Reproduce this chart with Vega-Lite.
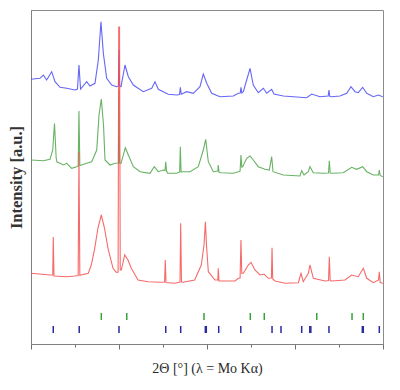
{
  "$schema": "https://vega.github.io/schema/vega-lite/v6.json",
  "width": 352,
  "height": 334,
  "autosize": {"type": "none"},
  "padding": {"left": 31, "top": 10, "right": 17, "bottom": 46},
  "background": "white",
  "config": {"view": {"stroke": "#8c8c8c", "strokeWidth": 1}, "font": "Liberation Serif"},
  "datasets": {
    "xrd": [
      {"series": "upper", "two_theta": 4.00, "intensity": 264.7},
      {"series": "upper", "two_theta": 5.02, "intensity": 265.7},
      {"series": "upper", "two_theta": 5.40, "intensity": 269},
      {"series": "upper", "two_theta": 5.78, "intensity": 264},
      {"series": "upper", "two_theta": 6.35, "intensity": 272.3},
      {"series": "upper", "two_theta": 6.73, "intensity": 262.3},
      {"series": "upper", "two_theta": 7.30, "intensity": 256.7},
      {"series": "upper", "two_theta": 8.06, "intensity": 255.7},
      {"series": "upper", "two_theta": 9.00, "intensity": 254},
      {"series": "upper", "two_theta": 9.28, "intensity": 255},
      {"series": "upper", "two_theta": 9.45, "intensity": 279},
      {"series": "upper", "two_theta": 9.63, "intensity": 255},
      {"series": "upper", "two_theta": 10.33, "intensity": 262.3},
      {"series": "upper", "two_theta": 10.70, "intensity": 258},
      {"series": "upper", "two_theta": 11.27, "intensity": 260.7},
      {"series": "upper", "two_theta": 11.65, "intensity": 284},
      {"series": "upper", "two_theta": 11.95, "intensity": 322.3},
      {"series": "upper", "two_theta": 12.22, "intensity": 290.7},
      {"series": "upper", "two_theta": 12.60, "intensity": 265.7},
      {"series": "upper", "two_theta": 13.17, "intensity": 259},
      {"series": "upper", "two_theta": 13.74, "intensity": 257.3},
      {"series": "upper", "two_theta": 13.93, "intensity": 258},
      {"series": "upper", "two_theta": 14.00, "intensity": 294},
      {"series": "upper", "two_theta": 14.07, "intensity": 258},
      {"series": "upper", "two_theta": 14.23, "intensity": 257.3},
      {"series": "upper", "two_theta": 14.68, "intensity": 279},
      {"series": "upper", "two_theta": 15.06, "intensity": 267.3},
      {"series": "upper", "two_theta": 15.63, "intensity": 259},
      {"series": "upper", "two_theta": 16.76, "intensity": 252.3},
      {"series": "upper", "two_theta": 17.72, "intensity": 255.7},
      {"series": "upper", "two_theta": 18.09, "intensity": 262.3},
      {"series": "upper", "two_theta": 18.47, "intensity": 254.7},
      {"series": "upper", "two_theta": 19.03, "intensity": 252.3},
      {"series": "upper", "two_theta": 19.60, "intensity": 249.7},
      {"series": "upper", "two_theta": 20.56, "intensity": 249},
      {"series": "upper", "two_theta": 20.88, "intensity": 249.5},
      {"series": "upper", "two_theta": 20.97, "intensity": 256.7},
      {"series": "upper", "two_theta": 21.07, "intensity": 249.7},
      {"series": "upper", "two_theta": 21.69, "intensity": 252.3},
      {"series": "upper", "two_theta": 22.44, "intensity": 250.7},
      {"series": "upper", "two_theta": 23.20, "intensity": 257.3},
      {"series": "upper", "two_theta": 23.58, "intensity": 270},
      {"series": "upper", "two_theta": 23.97, "intensity": 260.7},
      {"series": "upper", "two_theta": 24.53, "intensity": 250.7},
      {"series": "upper", "two_theta": 25.48, "intensity": 247.3},
      {"series": "upper", "two_theta": 26.99, "intensity": 248},
      {"series": "upper", "two_theta": 27.56, "intensity": 250.7},
      {"series": "upper", "two_theta": 27.78, "intensity": 251},
      {"series": "upper", "two_theta": 27.86, "intensity": 256.7},
      {"series": "upper", "two_theta": 27.95, "intensity": 251},
      {"series": "upper", "two_theta": 28.13, "intensity": 252.3},
      {"series": "upper", "two_theta": 28.51, "intensity": 264},
      {"series": "upper", "two_theta": 28.89, "intensity": 275.7},
      {"series": "upper", "two_theta": 29.26, "intensity": 259},
      {"series": "upper", "two_theta": 29.83, "intensity": 251.3},
      {"series": "upper", "two_theta": 30.40, "intensity": 255.7},
      {"series": "upper", "two_theta": 30.78, "intensity": 250.7},
      {"series": "upper", "two_theta": 31.35, "intensity": 254.7},
      {"series": "upper", "two_theta": 31.61, "intensity": 250},
      {"series": "upper", "two_theta": 32.67, "intensity": 248},
      {"series": "upper", "two_theta": 33.81, "intensity": 247.3},
      {"series": "upper", "two_theta": 35.33, "intensity": 246.3},
      {"series": "upper", "two_theta": 35.90, "intensity": 250},
      {"series": "upper", "two_theta": 36.84, "intensity": 247.3},
      {"series": "upper", "two_theta": 37.77, "intensity": 248},
      {"series": "upper", "two_theta": 37.86, "intensity": 254},
      {"series": "upper", "two_theta": 37.95, "intensity": 247.5},
      {"series": "upper", "two_theta": 38.17, "intensity": 247.3},
      {"series": "upper", "two_theta": 39.11, "intensity": 248},
      {"series": "upper", "two_theta": 39.88, "intensity": 250.7},
      {"series": "upper", "two_theta": 40.36, "intensity": 257.3},
      {"series": "upper", "two_theta": 40.82, "intensity": 252.3},
      {"series": "upper", "two_theta": 41.19, "intensity": 251.3},
      {"series": "upper", "two_theta": 41.69, "intensity": 256.7},
      {"series": "upper", "two_theta": 42.15, "intensity": 250.7},
      {"series": "upper", "two_theta": 42.90, "intensity": 247.3},
      {"series": "upper", "two_theta": 43.47, "intensity": 249},
      {"series": "upper", "two_theta": 43.97, "intensity": 247.3},

      {"series": "middle", "two_theta": 4.00, "intensity": 184},
      {"series": "middle", "two_theta": 5.40, "intensity": 183.3},
      {"series": "middle", "two_theta": 6.16, "intensity": 184.7},
      {"series": "middle", "two_theta": 6.47, "intensity": 194},
      {"series": "middle", "two_theta": 6.67, "intensity": 220.5},
      {"series": "middle", "two_theta": 6.86, "intensity": 186},
      {"series": "middle", "two_theta": 6.95, "intensity": 182},
      {"series": "middle", "two_theta": 7.30, "intensity": 180.7},
      {"series": "middle", "two_theta": 7.67, "intensity": 179},
      {"series": "middle", "two_theta": 8.06, "intensity": 180.7},
      {"series": "middle", "two_theta": 8.63, "intensity": 175.7},
      {"series": "middle", "two_theta": 9.19, "intensity": 177.3},
      {"series": "middle", "two_theta": 9.36, "intensity": 178},
      {"series": "middle", "two_theta": 9.45, "intensity": 233},
      {"series": "middle", "two_theta": 9.55, "intensity": 178.5},
      {"series": "middle", "two_theta": 9.76, "intensity": 179},
      {"series": "middle", "two_theta": 10.33, "intensity": 180.7},
      {"series": "middle", "two_theta": 10.90, "intensity": 182.3},
      {"series": "middle", "two_theta": 11.47, "intensity": 194},
      {"series": "middle", "two_theta": 11.73, "intensity": 229},
      {"series": "middle", "two_theta": 11.99, "intensity": 245},
      {"series": "middle", "two_theta": 12.24, "intensity": 219},
      {"series": "middle", "two_theta": 12.41, "intensity": 184},
      {"series": "middle", "two_theta": 12.98, "intensity": 179},
      {"series": "middle", "two_theta": 13.55, "intensity": 180.7},
      {"series": "middle", "two_theta": 13.93, "intensity": 181},
      {"series": "middle", "two_theta": 14.00, "intensity": 254},
      {"series": "middle", "two_theta": 14.07, "intensity": 181},
      {"series": "middle", "two_theta": 14.23, "intensity": 180.7},
      {"series": "middle", "two_theta": 14.72, "intensity": 196.3},
      {"series": "middle", "two_theta": 15.06, "intensity": 189},
      {"series": "middle", "two_theta": 15.63, "intensity": 177.3},
      {"series": "middle", "two_theta": 16.39, "intensity": 172.3},
      {"series": "middle", "two_theta": 17.52, "intensity": 170.7},
      {"series": "middle", "two_theta": 18.01, "intensity": 177.3},
      {"series": "middle", "two_theta": 18.47, "intensity": 172.3},
      {"series": "middle", "two_theta": 19.03, "intensity": 174},
      {"series": "middle", "two_theta": 19.23, "intensity": 173.5},
      {"series": "middle", "two_theta": 19.31, "intensity": 182.3},
      {"series": "middle", "two_theta": 19.40, "intensity": 173},
      {"series": "middle", "two_theta": 19.53, "intensity": 170.7},
      {"series": "middle", "two_theta": 20.56, "intensity": 170.7},
      {"series": "middle", "two_theta": 20.89, "intensity": 172},
      {"series": "middle", "two_theta": 20.97, "intensity": 197.3},
      {"series": "middle", "two_theta": 21.05, "intensity": 172},
      {"series": "middle", "two_theta": 21.24, "intensity": 172.3},
      {"series": "middle", "two_theta": 22.07, "intensity": 172.3},
      {"series": "middle", "two_theta": 23.01, "intensity": 177.3},
      {"series": "middle", "two_theta": 23.58, "intensity": 194},
      {"series": "middle", "two_theta": 23.85, "intensity": 204.7},
      {"series": "middle", "two_theta": 24.15, "intensity": 182.3},
      {"series": "middle", "two_theta": 24.72, "intensity": 172.3},
      {"series": "middle", "two_theta": 25.23, "intensity": 173},
      {"series": "middle", "two_theta": 25.28, "intensity": 179},
      {"series": "middle", "two_theta": 25.36, "intensity": 172},
      {"series": "middle", "two_theta": 25.56, "intensity": 171.3},
      {"series": "middle", "two_theta": 26.99, "intensity": 170.7},
      {"series": "middle", "two_theta": 27.56, "intensity": 172.3},
      {"series": "middle", "two_theta": 27.76, "intensity": 173},
      {"series": "middle", "two_theta": 27.86, "intensity": 189},
      {"series": "middle", "two_theta": 27.95, "intensity": 177},
      {"series": "middle", "two_theta": 28.05, "intensity": 177.3},
      {"series": "middle", "two_theta": 28.51, "intensity": 185.7},
      {"series": "middle", "two_theta": 28.89, "intensity": 188},
      {"series": "middle", "two_theta": 29.26, "intensity": 184},
      {"series": "middle", "two_theta": 29.83, "intensity": 177.3},
      {"series": "middle", "two_theta": 30.59, "intensity": 174.7},
      {"series": "middle", "two_theta": 31.08, "intensity": 174},
      {"series": "middle", "two_theta": 31.35, "intensity": 187.3},
      {"series": "middle", "two_theta": 31.50, "intensity": 172.3},
      {"series": "middle", "two_theta": 32.67, "intensity": 169},
      {"series": "middle", "two_theta": 34.57, "intensity": 168},
      {"series": "middle", "two_theta": 34.76, "intensity": 173.3},
      {"series": "middle", "two_theta": 35.02, "intensity": 169},
      {"series": "middle", "two_theta": 35.51, "intensity": 172.3},
      {"series": "middle", "two_theta": 35.70, "intensity": 177.3},
      {"series": "middle", "two_theta": 36.08, "intensity": 171.3},
      {"series": "middle", "two_theta": 37.22, "intensity": 170.7},
      {"series": "middle", "two_theta": 37.81, "intensity": 171},
      {"series": "middle", "two_theta": 37.90, "intensity": 183.3},
      {"series": "middle", "two_theta": 38.00, "intensity": 171},
      {"series": "middle", "two_theta": 38.17, "intensity": 170.7},
      {"series": "middle", "two_theta": 39.49, "intensity": 171.3},
      {"series": "middle", "two_theta": 40.44, "intensity": 176.7},
      {"series": "middle", "two_theta": 41.01, "intensity": 174.7},
      {"series": "middle", "two_theta": 41.69, "intensity": 177.3},
      {"series": "middle", "two_theta": 42.15, "intensity": 172.3},
      {"series": "middle", "two_theta": 42.90, "intensity": 169},
      {"series": "middle", "two_theta": 43.49, "intensity": 169},
      {"series": "middle", "two_theta": 43.58, "intensity": 174},
      {"series": "middle", "two_theta": 43.68, "intensity": 168.5},
      {"series": "middle", "two_theta": 43.97, "intensity": 167.3},

      {"series": "lower", "two_theta": 4.00, "intensity": 70.7},
      {"series": "lower", "two_theta": 6.16, "intensity": 69},
      {"series": "lower", "two_theta": 6.47, "intensity": 69},
      {"series": "lower", "two_theta": 6.53, "intensity": 107},
      {"series": "lower", "two_theta": 6.61, "intensity": 68},
      {"series": "lower", "two_theta": 8.06, "intensity": 67.3},
      {"series": "lower", "two_theta": 9.00, "intensity": 68},
      {"series": "lower", "two_theta": 9.36, "intensity": 68.5},
      {"series": "lower", "two_theta": 9.45, "intensity": 192},
      {"series": "lower", "two_theta": 9.55, "intensity": 68.5},
      {"series": "lower", "two_theta": 9.68, "intensity": 69},
      {"series": "lower", "two_theta": 10.51, "intensity": 70.7},
      {"series": "lower", "two_theta": 10.85, "intensity": 79},
      {"series": "lower", "two_theta": 11.24, "intensity": 95.7},
      {"series": "lower", "two_theta": 11.61, "intensity": 116},
      {"series": "lower", "two_theta": 11.99, "intensity": 129},
      {"series": "lower", "two_theta": 12.35, "intensity": 116},
      {"series": "lower", "two_theta": 12.75, "intensity": 95.7},
      {"series": "lower", "two_theta": 13.32, "intensity": 75.7},
      {"series": "lower", "two_theta": 13.69, "intensity": 71.7},
      {"series": "lower", "two_theta": 13.90, "intensity": 72},
      {"series": "lower", "two_theta": 13.97, "intensity": 317},
      {"series": "lower", "two_theta": 14.06, "intensity": 317},
      {"series": "lower", "two_theta": 14.14, "intensity": 74},
      {"series": "lower", "two_theta": 14.26, "intensity": 74},
      {"series": "lower", "two_theta": 14.65, "intensity": 89},
      {"series": "lower", "two_theta": 15.02, "intensity": 84},
      {"series": "lower", "two_theta": 15.40, "intensity": 75.7},
      {"series": "lower", "two_theta": 16.16, "intensity": 64},
      {"series": "lower", "two_theta": 17.30, "intensity": 62.3},
      {"series": "lower", "two_theta": 18.81, "intensity": 61.7},
      {"series": "lower", "two_theta": 19.18, "intensity": 62},
      {"series": "lower", "two_theta": 19.26, "intensity": 84},
      {"series": "lower", "two_theta": 19.34, "intensity": 61.5},
      {"series": "lower", "two_theta": 20.33, "intensity": 60.7},
      {"series": "lower", "two_theta": 20.93, "intensity": 62},
      {"series": "lower", "two_theta": 21.01, "intensity": 120.7},
      {"series": "lower", "two_theta": 21.10, "intensity": 62},
      {"series": "lower", "two_theta": 21.27, "intensity": 61.7},
      {"series": "lower", "two_theta": 22.60, "intensity": 64},
      {"series": "lower", "two_theta": 23.35, "intensity": 79},
      {"series": "lower", "two_theta": 23.66, "intensity": 99},
      {"series": "lower", "two_theta": 23.82, "intensity": 122.3},
      {"series": "lower", "two_theta": 23.94, "intensity": 99},
      {"series": "lower", "two_theta": 24.15, "intensity": 72.3},
      {"series": "lower", "two_theta": 24.91, "intensity": 64},
      {"series": "lower", "two_theta": 25.23, "intensity": 64},
      {"series": "lower", "two_theta": 25.28, "intensity": 75.7},
      {"series": "lower", "two_theta": 25.36, "intensity": 63},
      {"series": "lower", "two_theta": 25.59, "intensity": 63},
      {"series": "lower", "two_theta": 27.18, "intensity": 63},
      {"series": "lower", "two_theta": 27.56, "intensity": 65.7},
      {"series": "lower", "two_theta": 27.76, "intensity": 66},
      {"series": "lower", "two_theta": 27.86, "intensity": 104},
      {"series": "lower", "two_theta": 27.95, "intensity": 70.7},
      {"series": "lower", "two_theta": 28.13, "intensity": 70.7},
      {"series": "lower", "two_theta": 28.69, "intensity": 79},
      {"series": "lower", "two_theta": 29.00, "intensity": 81.7},
      {"series": "lower", "two_theta": 29.45, "intensity": 74},
      {"series": "lower", "two_theta": 30.02, "intensity": 69},
      {"series": "lower", "two_theta": 30.51, "intensity": 69.7},
      {"series": "lower", "two_theta": 30.97, "intensity": 65.7},
      {"series": "lower", "two_theta": 31.32, "intensity": 66},
      {"series": "lower", "two_theta": 31.39, "intensity": 96.3},
      {"series": "lower", "two_theta": 31.47, "intensity": 65},
      {"series": "lower", "two_theta": 31.73, "intensity": 63},
      {"series": "lower", "two_theta": 32.86, "intensity": 60.7},
      {"series": "lower", "two_theta": 34.38, "intensity": 61.3},
      {"series": "lower", "two_theta": 34.68, "intensity": 70.7},
      {"series": "lower", "two_theta": 34.94, "intensity": 62.3},
      {"series": "lower", "two_theta": 35.51, "intensity": 70.7},
      {"series": "lower", "two_theta": 35.70, "intensity": 79},
      {"series": "lower", "two_theta": 36.08, "intensity": 65.7},
      {"series": "lower", "two_theta": 37.41, "intensity": 63},
      {"series": "lower", "two_theta": 37.81, "intensity": 63.5},
      {"series": "lower", "two_theta": 37.90, "intensity": 87.3},
      {"series": "lower", "two_theta": 38.00, "intensity": 63.5},
      {"series": "lower", "two_theta": 38.17, "intensity": 63},
      {"series": "lower", "two_theta": 39.68, "intensity": 64},
      {"series": "lower", "two_theta": 40.44, "intensity": 69},
      {"series": "lower", "two_theta": 41.19, "intensity": 67.3},
      {"series": "lower", "two_theta": 41.76, "intensity": 75.7},
      {"series": "lower", "two_theta": 42.15, "intensity": 65.7},
      {"series": "lower", "two_theta": 42.90, "intensity": 61.3},
      {"series": "lower", "two_theta": 43.49, "intensity": 64},
      {"series": "lower", "two_theta": 43.58, "intensity": 72.3},
      {"series": "lower", "two_theta": 43.68, "intensity": 61.5},
      {"series": "lower", "two_theta": 43.97, "intensity": 60.7}
    ],
    "refl": [
      {"phase": "phase 1", "two_theta": 11.99},
      {"phase": "phase 1", "two_theta": 14.88},
      {"phase": "phase 1", "two_theta": 23.66},
      {"phase": "phase 1", "two_theta": 28.92},
      {"phase": "phase 1", "two_theta": 30.51},
      {"phase": "phase 1", "two_theta": 36.47},
      {"phase": "phase 1", "two_theta": 40.48},
      {"phase": "phase 1", "two_theta": 41.76},
      {"phase": "phase 2", "two_theta": 6.53},
      {"phase": "phase 2", "two_theta": 9.48},
      {"phase": "phase 2", "two_theta": 14.00},
      {"phase": "phase 2", "two_theta": 19.31},
      {"phase": "phase 2", "two_theta": 21.01},
      {"phase": "phase 2", "two_theta": 23.81},
      {"phase": "phase 2", "two_theta": 23.92},
      {"phase": "phase 2", "two_theta": 25.33},
      {"phase": "phase 2", "two_theta": 27.84},
      {"phase": "phase 2", "two_theta": 31.39},
      {"phase": "phase 2", "two_theta": 32.41},
      {"phase": "phase 2", "two_theta": 34.76},
      {"phase": "phase 2", "two_theta": 35.68},
      {"phase": "phase 2", "two_theta": 35.80},
      {"phase": "phase 2", "two_theta": 37.86},
      {"phase": "phase 2", "two_theta": 41.65},
      {"phase": "phase 2", "two_theta": 41.76},
      {"phase": "phase 2", "two_theta": 43.58}
    ]
  },
  "layer": [
    {
      "data": {"name": "xrd"},
      "mark": {"type": "line", "strokeWidth": 1.1, "interpolate": "linear", "opacity": 0.85},
      "encoding": {
        "x": {
          "field": "two_theta",
          "type": "quantitative",
          "scale": {"domain": [4, 44], "nice": false, "zero": false},
          "axis": {
            "values": [4, 9, 14, 19, 24, 29, 34, 39, 44],
            "labels": false,
            "grid": false,
            "domainColor": "#808080",
            "tickColor": "#707070",
            "tickSize": {"condition": {"test": "(datum.value - 4) % 10 === 0", "value": 5}, "value": 3},
            "title": "2Θ [°] (λ = Mo Kα)",
            "titleFont": "Liberation Serif",
            "titleFontSize": 14,
            "titleFontWeight": "normal",
            "titleColor": "#2a2a2a",
            "titlePadding": 12
          }
        },
        "y": {
          "field": "intensity",
          "type": "quantitative",
          "scale": {"domain": [0, 334], "nice": false, "zero": false},
          "axis": {
            "ticks": false,
            "labels": false,
            "grid": false,
            "domainColor": "#808080",
            "title": "Intensity [a.u.]",
            "titleFont": "Liberation Serif",
            "titleFontSize": 16.5,
            "titleFontWeight": "bold",
            "titleColor": "#333333",
            "titlePadding": 7
          }
        },
        "color": {
          "field": "series",
          "type": "nominal",
          "scale": {"domain": ["upper", "middle", "lower"], "range": ["#4a4af5", "#4ea448", "#f55050"]},
          "legend": null
        }
      }
    },
    {
      "data": {"name": "refl"},
      "transform": [{"filter": "datum.phase === 'phase 1'"}],
      "mark": {"type": "tick", "orient": "vertical", "size": 7, "thickness": 1.5, "color": "#3aa03a", "opacity": 1},
      "encoding": {
        "x": {"field": "two_theta", "type": "quantitative"},
        "y": {"datum": 27.5}
      }
    },
    {
      "data": {"name": "refl"},
      "transform": [{"filter": "datum.phase === 'phase 2'"}],
      "mark": {"type": "tick", "orient": "vertical", "size": 7, "thickness": 1.5, "color": "#2a2aa0", "opacity": 1},
      "encoding": {
        "x": {"field": "two_theta", "type": "quantitative"},
        "y": {"datum": 14.5}
      }
    }
  ]
}
